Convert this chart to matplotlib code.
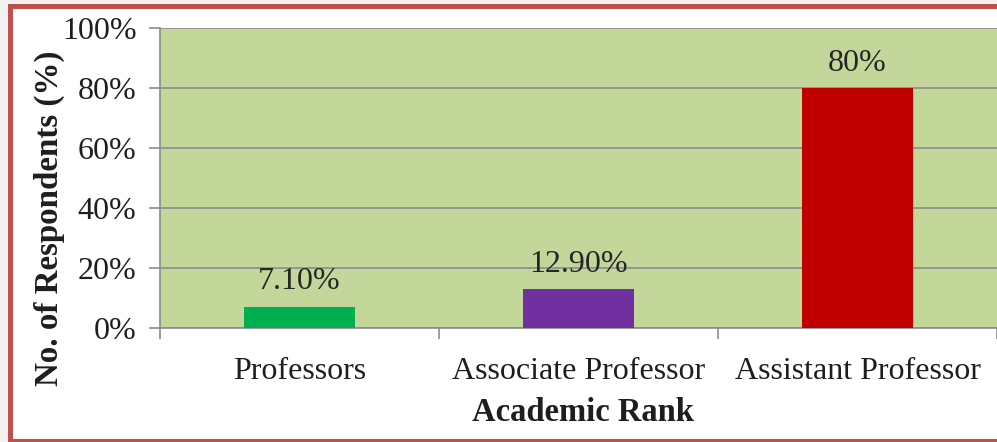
import matplotlib
matplotlib.use("Agg")
import matplotlib.pyplot as plt
from matplotlib.patches import Rectangle
from matplotlib.ticker import PercentFormatter

categories = ["Professors", "Associate Professor", "Assistant Professor"]
values = [7.10, 12.90, 80.0]
value_labels = ["7.10%", "12.90%", "80%"]
bar_colors = ["#00b050", "#7030a0", "#c00000"]
y_ticks = [0, 20, 40, 60, 80, 100]

plt.rcParams['font.family'] = ['Liberation Serif', 'DejaVu Serif']

W, H = 997, 442
FS = 23
fig = plt.figure(figsize=(W / 100, H / 100), dpi=100, facecolor="#f2f2f2")

# white panel with red border
fig.patches.append(Rectangle((9.5 / W, 1 - 440.5 / H), (W + 20) / W, (440.5 - 5.5) / H,
                             transform=fig.transFigure, facecolor="white",
                             edgecolor="#c0504d", linewidth=3.6, zorder=-10))

ax = fig.add_axes([160 / W, 1 - 328 / H, (W - 160) / W + 0.01, 300 / H])
ax.set_zorder(1)
ax.set_facecolor("#c4d79b")

x = list(range(len(categories)))
ax.bar(x, values, width=0.4, color=bar_colors, zorder=3)
for xi, v, lab in zip(x, values, value_labels):
    ax.annotate(lab, (xi, v), xytext=(0, 7.5), textcoords="offset points",
                ha="center", va="bottom", fontsize=FS, color="#262626", zorder=4)

ax.set_xlim(-0.5, 2.5 + 0.01 * 3 / ((W - 160) / W))
ax.set_ylim(0, 100)
ax.set_yticks(y_ticks)
ax.yaxis.set_major_formatter(PercentFormatter(decimals=0))
ax.grid(axis="y", color="#8c8c8c", linewidth=1.2, zorder=1)
ax.set_axisbelow(True)

# category tick marks at boundaries, labels centered
ax.set_xticks([-0.5, 0.5, 1.5, 2.5])
ax.set_xticklabels([])
ax.set_xticks(x, minor=True)
ax.set_xticklabels(categories, minor=True, fontsize=FS)
ax.tick_params(axis="x", which="minor", length=0, pad=21)
ax.tick_params(axis="x", which="major", length=8, color="#8c8c8c", width=1.2)
ax.tick_params(axis="y", length=8, color="#8c8c8c", width=1.2, labelsize=FS, pad=9,
               labelcolor="#1e1e1e")
ax.tick_params(axis="x", which="minor", labelcolor="#1e1e1e")

for s in ["top", "right"]:
    ax.spines[s].set_visible(False)
for s in ["left", "bottom"]:
    ax.spines[s].set_color("#8c8c8c")
    ax.spines[s].set_linewidth(1.2)

ax.set_xlabel("Academic Rank", fontsize=23.5, fontweight="bold", labelpad=8, color="#1e1e1e")
ax.set_ylabel("No. of Respondents (%)", fontsize=23.8, fontweight="bold", color="#1e1e1e")
ax.yaxis.set_label_coords((66 - 160) / 837, (328 - 218) / 300)

fig.savefig("out.png", dpi=100, facecolor=fig.get_facecolor())
